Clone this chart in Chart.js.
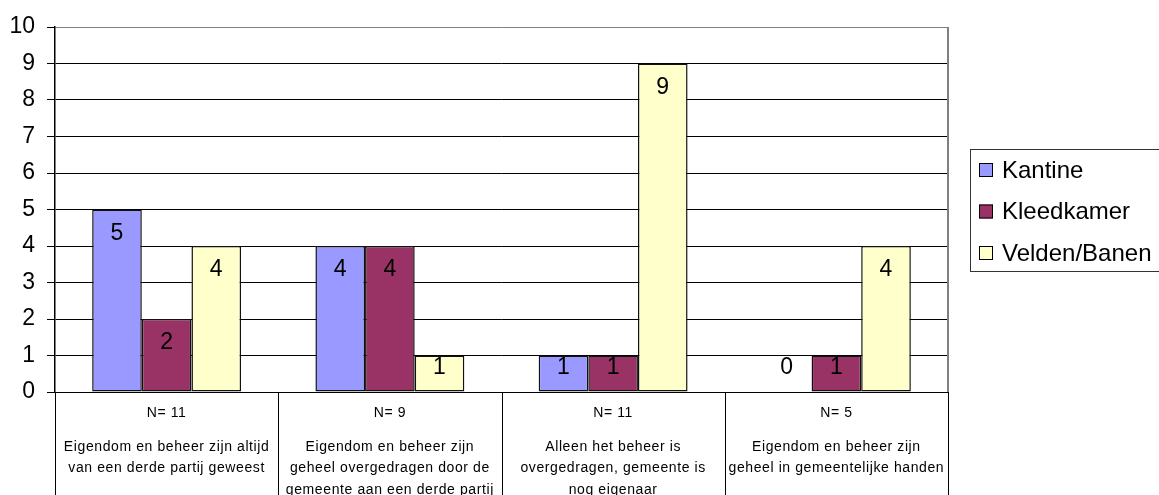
<!DOCTYPE html>
<html lang="nl">
<head>
    <meta charset="UTF-8">
    <script src="https://cdn.jsdelivr.net/npm/chart.js"></script>
    <title>Eigendom en beheer</title>
    <style>
        body { margin: 0; background: #fff; }
        #wrap { width: 1159px; height: 495px; position: relative; }
    </style>
</head>
<body>
    <div id="wrap"><canvas id="beheer-chart"></canvas></div>

    <script>
// data
const nValues = [11, 9, 11, 5];
const categoryLines = [
    ['Eigendom en beheer zijn altijd', 'van een derde partij geweest'],
    ['Eigendom en beheer zijn', 'geheel overgedragen door de', 'gemeente aan een derde partij'],
    ['Alleen het beheer is', 'overgedragen, gemeente is', 'nog eigenaar'],
    ['Eigendom en beheer zijn', 'geheel in gemeentelijke handen']
];
const seriesNames = ['Kantine', 'Kleedkamer', 'Velden/Banen'];
const kantine = [5, 4, 1, 0];
const kleedkamer = [2, 4, 1, 1];
const velden = [4, 1, 9, 4];
const yTicks = [0, 1, 2, 3, 4, 5, 6, 7, 8, 9, 10];

const colors = ['#9999FF', '#993366', '#FFFFCC'];
const FONT = '"Liberation Sans", Arial, sans-serif';

// value labels inside the top of each bar
const valueLabels = {
    id: 'valueLabels',
    afterDatasetsDraw(chart) {
        const ctx = chart.ctx;
        const base = chart.scales.y.getPixelForValue(0);
        ctx.save();
        ctx.font = '23px ' + FONT;
        ctx.fillStyle = '#000';
        ctx.textAlign = 'center';
        ctx.textBaseline = 'middle';
        chart.data.datasets.forEach((ds, di) => {
            chart.getDatasetMeta(di).data.forEach((bar, i) => {
                const y = Math.min(bar.y + 24, base - 24);
                ctx.fillText(String(ds.data[i]), bar.x, y);
            });
        });
        ctx.restore();
    }
};

// category table below the axis, plot border and legend box
const tableAndLegend = {
    id: 'tableAndLegend',
    afterDraw(chart) {
        const ctx = chart.ctx;
        const area = chart.chartArea;
        const xs = chart.scales.x;
        const half = xs.width / chart.data.labels.length / 2;
        ctx.save();

        // right border of plot
        ctx.strokeStyle = '#808080';
        ctx.lineWidth = 2;
        ctx.beginPath();
        ctx.moveTo(area.right, area.top);
        ctx.lineTo(area.right, area.bottom);
        ctx.stroke();

        // separators
        ctx.strokeStyle = '#000';
        ctx.lineWidth = 1;
        chart.data.labels.forEach((lab, i) => {
            const cx = xs.getPixelForValue(i);
            [cx - half, cx + half].forEach(x => {
                ctx.beginPath();
                ctx.moveTo(Math.round(x) + 0.5, area.bottom);
                ctx.lineTo(Math.round(x) + 0.5, chart.height);
                ctx.stroke();
            });
        });

        // category texts
        ctx.fillStyle = '#000';
        ctx.textAlign = 'center';
        ctx.textBaseline = 'middle';
        ctx.font = '14px ' + FONT;
        ctx.letterSpacing = '0.6px';
        chart.data.labels.forEach((lab, i) => {
            const cx = xs.getPixelForValue(i);
            ctx.fillText('N= ' + nValues[i], cx, area.bottom + 21);
            categoryLines[i].forEach((line, k) => {
                ctx.fillText(line, cx, area.bottom + 55 + k * 21.5);
            });
        });
        ctx.letterSpacing = '0px';

        // legend
        const lx = area.right + 22, ly = 149;
        ctx.fillStyle = '#fff';
        ctx.fillRect(lx, ly, 200, 122);
        ctx.strokeStyle = '#333';
        ctx.lineWidth = 1;
        ctx.strokeRect(lx + 0.5, ly + 0.5, 200, 122);
        ctx.font = '24px ' + FONT;
        ctx.textAlign = 'left';
        chart.data.datasets.forEach((ds, di) => {
            const cy = ly + 21 + di * 41.5;
            ctx.fillStyle = ds.backgroundColor;
            ctx.fillRect(lx + 9, cy - 7, 14, 14);
            ctx.strokeStyle = '#000';
            ctx.strokeRect(lx + 9.5, cy - 6.5, 13, 13);
            ctx.fillStyle = '#000';
            ctx.fillText(ds.label, lx + 32, cy + 1);
        });
        ctx.restore();
    }
};

const datasets = [kantine, kleedkamer, velden].map((vals, i) => ({
    label: seriesNames[i],
    data: vals,
    backgroundColor: colors[i],
    borderColor: '#111',
    borderWidth: 1.5,
    borderSkipped: false,
    categoryPercentage: 0.667,
    barPercentage: 1.0
}));

new Chart(document.getElementById('beheer-chart'), {
    type: 'bar',
    data: {
        labels: categoryLines.map(l => l.join(' ')),
        datasets: datasets
    },
    options: {
        responsive: true,
        maintainAspectRatio: false,
        animation: false,
        layout: { padding: { left: 0, top: 27, right: 211, bottom: 0 } },
        plugins: {
            legend: { display: false },
            tooltip: { enabled: false }
        },
        scales: {
            x: {
                ticks: { display: false },
                grid: { display: false },
                border: { color: '#000', width: 1 },
                afterFit(scale) { scale.height = 103; }
            },
            y: {
                min: 0,
                max: 10,
                afterBuildTicks(scale) { scale.ticks = yTicks.map(v => ({ value: v })); },
                ticks: {
                    color: '#000',
                    padding: 12,
                    font: { family: FONT, size: 23 }
                },
                grid: {
                    color: ctx => (ctx.tick && ctx.tick.value === 10) ? '#808080' : '#000',
                    lineWidth: 1,
                    tickLength: 8,
                    tickColor: '#000'
                },
                border: { color: '#000', width: 1.5 },
                afterFit(scale) { scale.width = 55; }
            }
        }
    },
    plugins: [valueLabels, tableAndLegend]
});
    </script>
</body>
</html>
